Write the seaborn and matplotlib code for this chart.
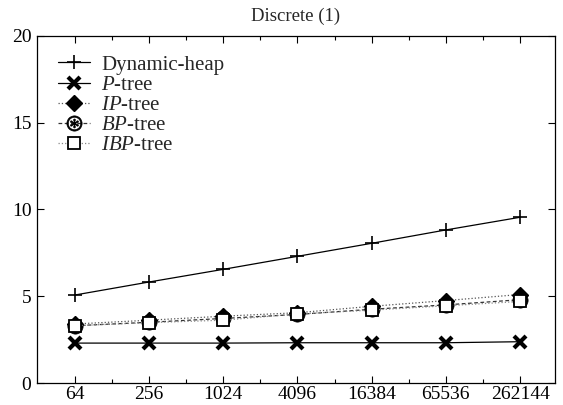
import matplotlib
matplotlib.use("Agg")
import matplotlib.pyplot as plt
import seaborn as sns
import pandas as pd
import numpy as np
from matplotlib.ticker import FixedLocator, NullFormatter

sns.set_theme(style="ticks")
plt.rcParams['font.family'] = ['Liberation Serif', 'DejaVu Serif']
plt.rcParams['mathtext.fontset'] = 'custom'
plt.rcParams['mathtext.it'] = 'Liberation Serif:italic'
plt.rcParams['mathtext.rm'] = 'Liberation Serif'

sizes = [64, 256, 1024, 4096, 16384, 65536, 262144]
tick_labels = ["64", "256", "1024", "4096", "16384", "65536", "262144"]
dynamic_heap = [5.07, 5.82, 6.55, 7.3, 8.05, 8.82, 9.55]
p_tree = [2.3, 2.3, 2.3, 2.32, 2.32, 2.32, 2.38]
ip_tree = [3.4, 3.62, 3.85, 4.05, 4.42, 4.75, 5.1]
bp_tree = [3.3, 3.5, 3.72, 3.95, 4.25, 4.5, 4.8]
ibp_tree = [3.3, 3.48, 3.62, 3.98, 4.2, 4.45, 4.7]

series = [
    ("Dynamic-heap", dynamic_heap, dict(color="black", lw=0.9, ls="-", marker="+", ms=10, mew=1.2, mfc="black", mec="black")),
    (r"$\it{P}$-tree", p_tree, dict(color="black", lw=0.9, ls="-", marker="x", ms=8.5, mew=3, mfc="black", mec="black")),
    (r"$\it{IP}$-tree", ip_tree, dict(color="#555555", lw=0.9, ls=":", marker="D", ms=8, mew=1, mfc="black", mec="black")),
    (r"$\it{BP}$-tree", bp_tree, dict(color="#333333", lw=0.9, ls=(0, (3, 2)), marker=r"$\circledast$", ms=11, mew=0.5, mfc="black", mec="black")),
    (r"$\it{IBP}$-tree", ibp_tree, dict(color="#888888", lw=0.9, ls=":", marker="s", ms=8.5, mew=1.3, mfc="white", mec="black")),
]

fig = plt.figure(figsize=(5.63, 4.05), dpi=100)
ax = fig.add_axes([0.0657, 0.0543, 0.92, 0.857])

for name, vals, st in series:
    df = pd.DataFrame({"size": sizes, "value": vals})
    sns.lineplot(data=df, x="size", y="value", ax=ax, label=name, **st)

ax.set_xscale("log", base=2)
ax.set_xlim(64 / 4 ** 0.51, 262144 * 4 ** 0.47)
ax.set_ylim(0, 20)
ax.xaxis.set_major_locator(FixedLocator(sizes))
ax.set_xticklabels(tick_labels)
ax.xaxis.set_minor_locator(FixedLocator([s * 2 for s in sizes[:-1]]))
ax.xaxis.set_minor_formatter(NullFormatter())
ax.set_yticks([0, 5, 10, 15, 20])
ax.yaxis.set_minor_locator(FixedLocator([]))
ax.tick_params(axis="both", which="both", direction="in", top=True, right=True,
               labelsize=14, length=5, width=0.8, color="black", labelcolor="black")
ax.tick_params(axis="x", which="minor", length=3)
ax.tick_params(axis="x", pad=2.5)
ax.tick_params(axis="y", pad=4)
for sp in ax.spines.values():
    sp.set_color("black")
    sp.set_linewidth(0.9)
ax.set_xlabel("")
ax.set_ylabel("")
ax.set_title("Discrete (1)", fontsize=13.5, pad=11)
leg = ax.legend(loc="upper left", frameon=False, fontsize=15, handlelength=1.55,
                handletextpad=0.55, labelspacing=0.03, borderaxespad=0.0,
                borderpad=0.0, bbox_to_anchor=(0.04, 0.945))
fig.savefig("out.png", dpi=100)
